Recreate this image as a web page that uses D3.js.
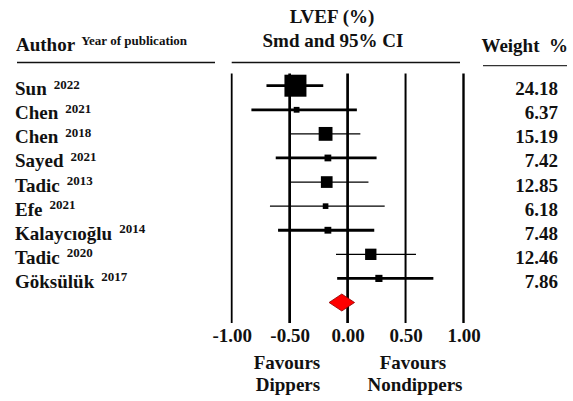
<!DOCTYPE html>
<html>
<head>
<meta charset="utf-8">
<script src="https://cdn.jsdelivr.net/npm/d3@7"></script>
<style>
  html, body { margin: 0; padding: 0; background: #fff; }
  svg { display: block; }
  text { font-family: "Liberation Serif", "Times New Roman", serif; font-weight: bold; fill: #111; }
</style>
</head>
<body>
<script>
// ---- data ----
const authors = ["Sun", "Chen", "Chen", "Sayed", "Tadic", "Efe", "Kalaycıoğlu", "Tadic", "Göksülük"];
const years = ["2022", "2021", "2018", "2021", "2013", "2021", "2014", "2020", "2017"];
const smd = [-0.45, -0.44, -0.19, -0.17, -0.18, -0.19, -0.17, 0.20, 0.27];
const lower = [-0.70, -0.83, -0.50, -0.62, -0.50, -0.67, -0.60, -0.10, -0.09];
const upper = [-0.21, 0.08, 0.11, 0.25, 0.18, 0.32, 0.23, 0.59, 0.74];
const weights = [24.18, 6.37, 15.19, 7.42, 12.85, 6.18, 7.48, 12.46, 7.86];
const pooledEst = -0.05, pooledLo = -0.16, pooledHi = 0.06;
const tickValues = [-1.0, -0.5, 0.0, 0.5, 1.0];

// ---- styles ----
const ciWidths = [2.8, 2.8, 1.3, 2.8, 1.3, 1.3, 2.8, 1.3, 2.8];
const gridWidths = [1.8, 2.7, 2.7, 2.0, 2.4];
const FS = 19, SUP = 13;

const W = 573, H = 401;
const svg = d3.select("body").append("svg").attr("width", W).attr("height", H);

const x = d3.scaleLinear().domain([-1, 1]).range([231.7, 463.5]);
const rows = d3.range(authors.length + 1);
const y = d3.scalePoint().domain(rows).range([85.7, 302.5]);
const size = d3.scaleLinear().domain([0, 24.18]).range([0, 22]);

// header
svg.append("text").attr("x", 332).attr("y", 23).attr("text-anchor", "middle").attr("font-size", FS).text("LVEF (%)");
svg.append("text").attr("x", 333).attr("y", 47).attr("text-anchor", "middle").attr("font-size", FS).text("Smd and 95% CI");

const ah = svg.append("text").attr("x", 16).attr("y", 51).attr("font-size", FS);
ah.append("tspan").text("Author");
ah.append("tspan").attr("dx", 6).attr("dy", -6).attr("font-size", SUP).text("Year of publication");

svg.append("text").attr("x", 568).attr("y", 52).attr("text-anchor", "end").attr("font-size", FS).attr("xml:space", "preserve").text("Weight  %");

svg.append("line").attr("x1", 17).attr("x2", 215).attr("y1", 62.5).attr("y2", 62.5).attr("stroke", "#111").attr("stroke-width", 1.3);
svg.append("line").attr("x1", 231.7).attr("x2", 460).attr("y1", 62.5).attr("y2", 62.5).attr("stroke", "#111").attr("stroke-width", 1.3);
svg.append("line").attr("x1", 483).attr("x2", 567).attr("y1", 65.7).attr("y2", 65.7).attr("stroke", "#333").attr("stroke-width", 1.3);

// vertical grid lines
svg.append("g").selectAll("line").data(tickValues).join("line")
  .attr("x1", d => x(d)).attr("x2", d => x(d))
  .attr("y1", 73.5).attr("y2", 323)
  .attr("stroke", "#000").attr("stroke-width", (d, i) => gridWidths[i]);

// axis labels
const axis = d3.axisBottom(x).tickValues(tickValues).tickSize(0).tickPadding(0).tickFormat(d => d.toFixed(2));
const ag = svg.append("g").attr("transform", "translate(0,328)").call(axis);
ag.select(".domain").remove();
ag.selectAll("text").attr("font-size", FS).attr("font-family", "Liberation Serif").attr("font-weight", "bold").attr("fill", "#111").attr("dy", "0.71em");

// favours labels
svg.append("text").attr("x", 287).attr("y", 369).attr("text-anchor", "middle").attr("font-size", FS).text("Favours");
svg.append("text").attr("x", 288).attr("y", 391).attr("text-anchor", "middle").attr("font-size", FS).text("Dippers");
svg.append("text").attr("x", 413).attr("y", 369).attr("text-anchor", "middle").attr("font-size", FS).text("Favours");
svg.append("text").attr("x", 415).attr("y", 391).attr("text-anchor", "middle").attr("font-size", FS).text("Nondippers");

// study rows
const idx = d3.range(authors.length);
const labels = svg.append("g").selectAll("text").data(idx).join("text")
  .attr("x", 15).attr("y", i => y(i) + 9.5).attr("font-size", FS);
labels.append("tspan").text(i => authors[i]);
labels.append("tspan").attr("dx", 7).attr("dy", -6.5).attr("font-size", SUP).text(i => years[i]);

svg.append("g").selectAll("text").data(idx).join("text")
  .attr("x", 558).attr("y", i => y(i) + 9.5).attr("text-anchor", "end").attr("font-size", FS)
  .text(i => weights[i].toFixed(2));

// CI lines
svg.append("g").selectAll("line").data(idx).join("line")
  .attr("x1", i => x(lower[i])).attr("x2", i => x(upper[i]))
  .attr("y1", i => y(i)).attr("y2", i => y(i))
  .attr("stroke", "#000").attr("stroke-width", i => ciWidths[i]);

// squares
svg.append("g").selectAll("rect").data(idx).join("rect")
  .attr("x", i => x(smd[i]) - size(weights[i]) / 2)
  .attr("y", i => y(i) - size(weights[i]) / 2)
  .attr("width", i => size(weights[i]))
  .attr("height", i => size(weights[i]))
  .attr("fill", "#000");

// pooled diamond
const py = y(authors.length);
const dh = 8.5;
svg.append("path")
  .attr("d", `M${x(pooledLo)},${py} L${x(pooledEst)},${py - dh} L${x(pooledHi)},${py} L${x(pooledEst)},${py + dh} Z`)
  .attr("fill", "#ff0000").attr("stroke", "#8b0000").attr("stroke-width", 0.8);
</script>
</body>
</html>
